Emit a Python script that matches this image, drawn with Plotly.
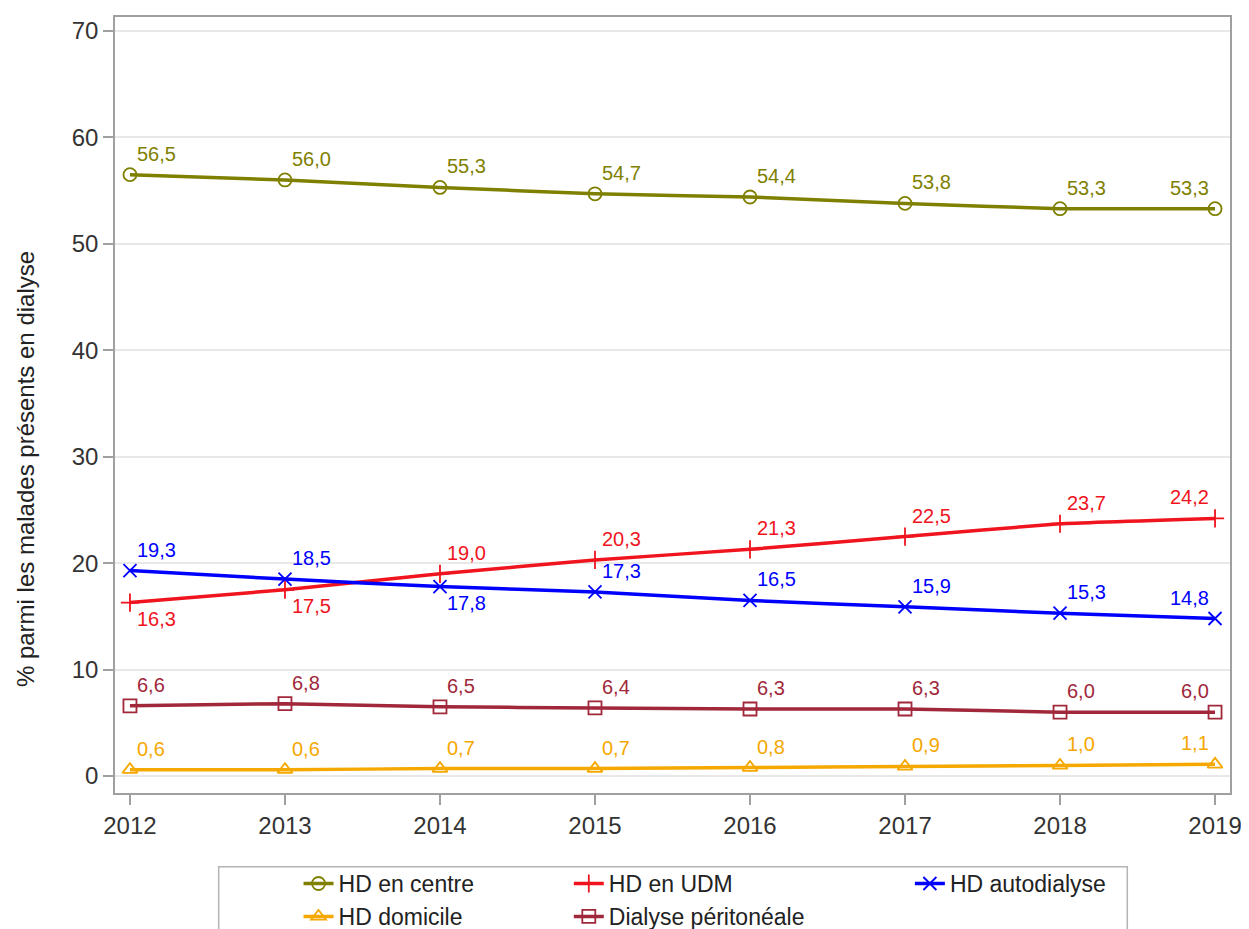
import plotly.graph_objects as go

years = [2012, 2013, 2014, 2015, 2016, 2017, 2018, 2019]
hd_centre = [56.5, 56.0, 55.3, 54.7, 54.4, 53.8, 53.3, 53.3]
hd_udm = [16.3, 17.5, 19.0, 20.3, 21.3, 22.5, 23.7, 24.2]
hd_auto = [19.3, 18.5, 17.8, 17.3, 16.5, 15.9, 15.3, 14.8]
hd_domicile = [0.6, 0.6, 0.7, 0.7, 0.8, 0.9, 1.0, 1.1]
dialyse_perit = [6.6, 6.8, 6.5, 6.4, 6.3, 6.3, 6.0, 6.0]
y_ticks = [0, 10, 20, 30, 40, 50, 60, 70]
y_title = "% parmi les malades présents en dialyse"

FONT = "Liberation Sans, Arial, sans-serif"

# name, values, colour, marker, label placement, legend column
series = [
    ("HD en centre", hd_centre, "#7f8000", "circle-open", ["above"] * 7 + ["left"], "legend"),
    ("HD en UDM", hd_udm, "#f0141e", "cross-thin-open", ["below", "below"] + ["above"] * 5 + ["left"], "legend2"),
    ("HD autodialyse", hd_auto, "#0000ff", "x-thin-open", ["above", "above", "below"] + ["above"] * 4 + ["left"], "legend3"),
    ("HD domicile", hd_domicile, "#f5a800", "triangle-up-open", ["above"] * 7 + ["left"], "legend"),
    ("Dialyse péritonéale", dialyse_perit, "#a0283a", "square-open", ["above"] * 7 + ["left"], "legend2"),
]

fig = go.Figure()
annotations = []
for name, vals, color, sym, pos, leg in series:
    fig.add_trace(go.Scatter(
        x=years, y=vals, name=name, mode="lines+markers", legend=leg,
        line=dict(color=color, width=3.5, shape="spline", smoothing=0.3),
        marker=dict(symbol=sym, size=13, color=color, line=dict(width=1.8, color=color)),
    ))
    for x, v, p in zip(years, vals, pos):
        txt = f"{v:.1f}".replace(".", ",")
        if p == "above":
            xs, ys, xa, ya = 5, 8, "left", "bottom"
        elif p == "below":
            xs, ys, xa, ya = 5, -3, "left", "top"
        else:
            xs, ys, xa, ya = -4, 8, "right", "bottom"
        annotations.append(dict(
            x=x, y=v, text=txt, showarrow=False, xanchor=xa, yanchor=ya,
            xshift=xs, yshift=ys, font=dict(color=color, size=20, family=FONT),
        ))

# y-axis title (centred on the whole graphic, as in the original)
annotations.append(dict(
    text=y_title, xref="paper", yref="paper", x=-0.0796, y=0.4177,
    xanchor="center", yanchor="middle", textangle=-90, showarrow=False,
    font=dict(size=24, color="#222222", family=FONT),
))

leg_common = dict(orientation="v", yanchor="top", xanchor="left",
                  yref="container", y=0.0727,
                  bgcolor="rgba(0,0,0,0)", borderwidth=0,
                  font=dict(size=23, color="#222222", family=FONT))

fig.update_layout(
    width=1241, height=921,
    margin=dict(l=107, r=16, t=7, b=136),
    paper_bgcolor="white", plot_bgcolor="white",
    font=dict(family=FONT, size=24, color="#333333"),
    annotations=annotations,
    showlegend=True,
    legend=dict(x=0.1646, **leg_common),
    legend2=dict(x=0.4070, **leg_common),
    legend3=dict(x=0.7129, **leg_common),
    shapes=[dict(type="rect", xref="paper", yref="paper", x0=0.0930, x1=0.9079,
                 y0=-0.185, y1=-0.0951, line=dict(color="#b4b4b4", width=1.5),
                 fillcolor="rgba(0,0,0,0)", layer="above")],
    xaxis=dict(
        range=[2011.9035, 2019.0965], tickmode="array", tickvals=years,
        ticktext=[str(y) for y in years], ticks="outside", ticklen=10, tickwidth=1.5,
        tickcolor="#a0a0a0", showgrid=False, showline=True, linecolor="#a0a0a0", linewidth=1.5,
        mirror=True, zeroline=False, tickfont=dict(size=24, color="#333333"),
        ticklabeloverflow="allow",
    ),
    yaxis=dict(
        range=[-1.593, 71.31], tickmode="array", tickvals=y_ticks,
        ticks="outside", ticklen=10, tickwidth=1.5, tickcolor="#a0a0a0", showgrid=True,
        gridcolor="#e8e8e8", gridwidth=1.5, showline=True, linecolor="#a0a0a0", linewidth=1.5,
        mirror=True, zeroline=False, tickfont=dict(size=24, color="#333333"),
    ),
)

fig.write_html("out.html")
